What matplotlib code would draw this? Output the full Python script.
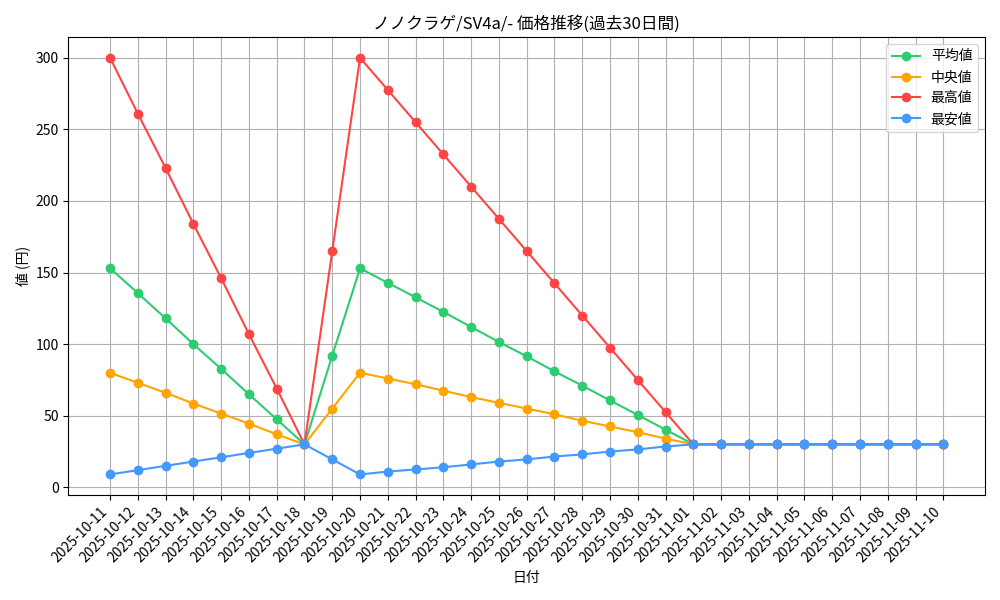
import matplotlib
matplotlib.use("Agg")
import matplotlib.pyplot as plt
import pandas as pd

plt.rcParams['font.family'] = ['Noto Sans CJK JP', 'DejaVu Sans']

dates = pd.date_range("2025-10-11", "2025-11-10").strftime("%Y-%m-%d").tolist()
flat = [30] * 9
mean_v = [153, 135.6, 118, 100, 82.7, 65, 47.5, 30, 92, 153, 142.8, 132.7, 122.5, 112, 101.5,
          91.5, 81, 71, 60.7, 50.5, 40.3, 30] + flat
median_v = [80, 73, 66, 58.5, 51.5, 44.5, 37, 30, 55, 80, 76, 72, 67.5, 63, 59,
            55, 51, 46.5, 42.5, 38.5, 34, 30] + flat
max_v = [300, 261, 223, 184, 146, 107, 69, 30, 165, 300, 277.5, 255, 232.5, 210, 187.5,
         165, 142.5, 120, 97.5, 75, 52.5, 30] + flat
min_v = [9, 12, 15, 18, 21, 24, 27, 30, 19.5, 9, 11, 12.5, 14, 16, 18,
         19.5, 21.5, 23, 25, 26.5, 28.5, 30] + flat

fig, ax = plt.subplots(figsize=(10, 6), dpi=100)
x = range(len(dates))
ax.plot(x, mean_v, marker='o', color='#2ecc71', label='平均値')
ax.plot(x, median_v, marker='o', color='#ffa500', label='中央値')
ax.plot(x, max_v, marker='o', color='#ff4444', label='最高値')
ax.plot(x, min_v, marker='o', color='#4499ff', label='最安値')
ax.set_xticks(list(x))
ax.set_xticklabels(dates, rotation=45, ha='right')
ax.set_title('ノノクラゲ/SV4a/- 価格推移(過去30日間)')
ax.set_xlabel('日付')
ax.set_ylabel('値 (円)')
ax.grid(True)
ax.legend(loc='upper right')
fig.tight_layout()
fig.savefig('out.png')
